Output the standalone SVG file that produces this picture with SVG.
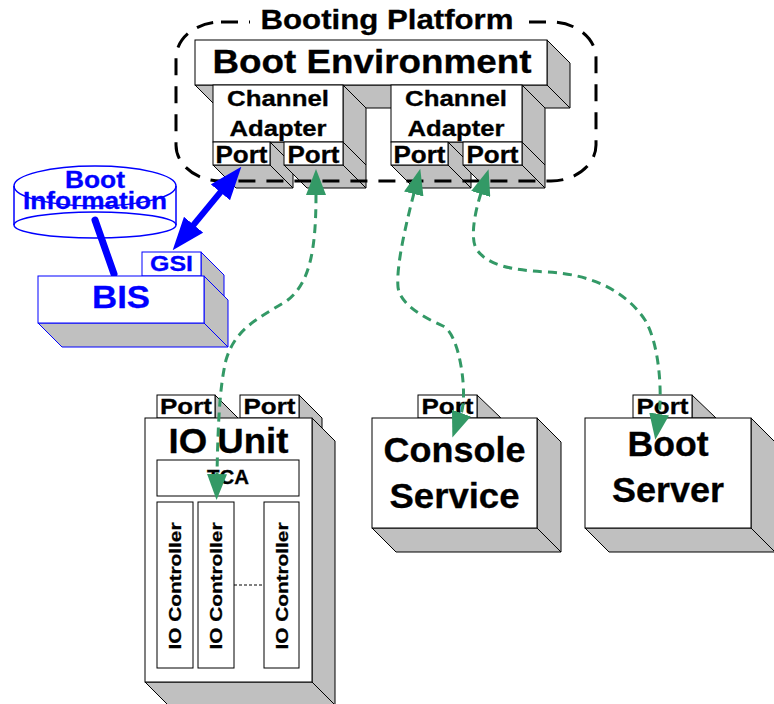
<svg xmlns="http://www.w3.org/2000/svg" width="774" height="704" viewBox="0 0 774 704">
<style>
.f{fill:#fff;stroke:#000;stroke-width:1}
.s{fill:#c0c0c0;stroke:#000;stroke-width:1}
.bf{fill:#fff;stroke:#00f;stroke-width:1}
.bsh{fill:#c0c0c0;stroke:#00f;stroke-width:1}
text{font-family:"Liberation Sans",Arial,sans-serif;font-weight:bold;text-anchor:middle;fill:#000;stroke:#000;stroke-width:0.3}
text.blue{fill:#00f;stroke:#00f}
.g{fill:none;stroke:#339966;stroke-width:3;stroke-dasharray:9,6;marker-start:url(#ga);marker-end:url(#ga)}
</style>
<defs>
<marker id="ga" markerUnits="userSpaceOnUse" viewBox="0 0 26 20" markerWidth="26" markerHeight="20" refX="1" refY="10" orient="auto-start-reverse"><path d="M0,0 L26,10 L0,20 Z" fill="#339966"/></marker>
<marker id="ba" markerUnits="userSpaceOnUse" viewBox="0 0 33 25" markerWidth="33" markerHeight="25" refX="1" refY="12.5" orient="auto-start-reverse"><path d="M0,0 L33,12.5 L0,25 Z" fill="#00f"/></marker>
</defs>

<g id="boot-environment">
<polygon class="s" points="547,40 570,63 570,108 547,85"/>
<polygon class="s" points="195,85 547,85 570,108 218,108"/>
<rect class="f" x="195" y="40" width="352" height="45"/>
<text x="372" y="73" font-size="33" textLength="319" lengthAdjust="spacingAndGlyphs">Boot Environment</text>
</g>

<g id="channel-adapter-1">
<polygon class="s" points="343,85 366,108 366,165 343,142"/>
<polygon class="s" points="213,142 343,142 366,165 236,165"/>
<rect class="f" x="213" y="85" width="130" height="57"/>
<text x="278" y="106" font-size="22" textLength="102" lengthAdjust="spacingAndGlyphs">Channel</text>
<text x="278" y="136" font-size="22" textLength="97" lengthAdjust="spacingAndGlyphs">Adapter</text>
</g>
<g id="channel-adapter-2">
<polygon class="s" points="522,85 545,108 545,165 522,142"/>
<polygon class="s" points="391,142 522,142 545,165 414,165"/>
<rect class="f" x="391" y="85" width="131" height="57"/>
<text x="456" y="106" font-size="22" textLength="102" lengthAdjust="spacingAndGlyphs">Channel</text>
<text x="456" y="136" font-size="22" textLength="97" lengthAdjust="spacingAndGlyphs">Adapter</text>
</g>

<g id="ca1-port-1">
<polygon class="s" points="270,142 293,165 293,188 270,165"/>
<polygon class="s" points="213,165 270,165 293,188 236,188"/>
<rect class="f" x="213" y="142" width="57" height="23"/>
<text x="241.5" y="163" font-size="23" textLength="52" lengthAdjust="spacingAndGlyphs">Port</text>
</g>
<g id="ca1-port-2">
<polygon class="s" points="343,142 366,165 366,188 343,165"/>
<polygon class="s" points="284,165 343,165 366,188 307,188"/>
<rect class="f" x="284" y="142" width="59" height="23"/>
<text x="313.5" y="163" font-size="23" textLength="52" lengthAdjust="spacingAndGlyphs">Port</text>
</g>
<g id="ca2-port-1">
<polygon class="s" points="448,142 471,165 471,188 448,165"/>
<polygon class="s" points="391,165 448,165 471,188 414,188"/>
<rect class="f" x="391" y="142" width="57" height="23"/>
<text x="419.5" y="163" font-size="23" textLength="52" lengthAdjust="spacingAndGlyphs">Port</text>
</g>
<g id="ca2-port-2">
<polygon class="s" points="522,142 545,165 545,188 522,165"/>
<polygon class="s" points="463,165 522,165 545,188 486,188"/>
<rect class="f" x="463" y="142" width="59" height="23"/>
<text x="492.5" y="163" font-size="23" textLength="52" lengthAdjust="spacingAndGlyphs">Port</text>
</g>

<g id="booting-platform">
<rect x="176" y="22" width="420" height="159" rx="45" ry="36" fill="none" stroke="#000" stroke-width="3" stroke-dasharray="17,11"/>
<rect x="250" y="4" width="277" height="32" fill="#fff"/>
<text x="387" y="29" font-size="28" textLength="253" lengthAdjust="spacingAndGlyphs">Booting Platform</text>
</g>

<g id="boot-information">
<path d="M14,186 L14,225 A81,13 0 0 0 176,225 L176,186 Z" fill="#fff"/>
<ellipse cx="95" cy="225" rx="81" ry="13" fill="none" stroke="#00f" stroke-width="1.5"/>
<ellipse cx="95" cy="186" rx="81" ry="20" fill="#fff" stroke="#00f" stroke-width="1.5"/>
<line x1="14" y1="186" x2="14" y2="225" stroke="#00f" stroke-width="1.5"/>
<line x1="176" y1="186" x2="176" y2="225" stroke="#00f" stroke-width="1.5"/>
<text class="blue" x="95" y="188" font-size="23" textLength="60" lengthAdjust="spacingAndGlyphs">Boot</text>
<text class="blue" x="95" y="209" font-size="23" textLength="144" lengthAdjust="spacingAndGlyphs">Information</text>
</g>

<g id="gsi">
<polygon class="bsh" points="201,252 224,275 224,299 201,276"/>
<rect class="bf" x="142" y="252" width="59" height="24"/>
<text class="blue" x="171.5" y="271" font-size="22" textLength="43" lengthAdjust="spacingAndGlyphs">GSI</text>
</g>

<g id="connectors">
<line x1="95" y1="220" x2="114" y2="274" stroke="#00f" stroke-width="7" stroke-linecap="round"/>
<path d="M193,225.5 L221,191.5" stroke="#00f" stroke-width="6" fill="none" marker-start="url(#ba)" marker-end="url(#ba)"/>
</g>

<g id="bis">
<polygon class="bsh" points="204,276 228,300 228,347 204,323"/>
<polygon class="bsh" points="38,323 204,323 228,347 62,347"/>
<rect class="bf" x="38" y="276" width="166" height="47"/>
<text class="blue" x="121" y="308" font-size="32" textLength="58" lengthAdjust="spacingAndGlyphs">BIS</text>
</g>

<g id="io-port-1">
<polygon class="s" points="215,395 238,418 238,441 215,418"/>
<rect class="f" x="157" y="395" width="58" height="23"/>
<text x="186" y="414" font-size="22" textLength="52" lengthAdjust="spacingAndGlyphs">Port</text>
</g>
<g id="io-port-2">
<polygon class="s" points="299,395 322,418 322,441 299,418"/>
<rect class="f" x="240" y="395" width="59" height="23"/>
<text x="269.5" y="414" font-size="22" textLength="52" lengthAdjust="spacingAndGlyphs">Port</text>
</g>

<g id="io-unit">
<polygon class="s" points="312,418 335,441 335,705 312,682"/>
<polygon class="s" points="145,682 312,682 335,705 168,705"/>
<rect class="f" x="145" y="418" width="167" height="264"/>
<text x="228.5" y="453" font-size="35" textLength="120" lengthAdjust="spacingAndGlyphs">IO Unit</text>
<rect class="f" x="157" y="460" width="142" height="36"/>
<text x="228" y="484" font-size="20" textLength="42" lengthAdjust="spacingAndGlyphs">TCA</text>
<rect class="f" x="157" y="502" width="36" height="166"/>
<rect class="f" x="198" y="502" width="36" height="166"/>
<rect class="f" x="264" y="502" width="35" height="166"/>
<text transform="translate(175,586) rotate(-90)" x="0" y="6" font-size="17" textLength="127" lengthAdjust="spacingAndGlyphs">IO Controller</text>
<text transform="translate(216,586) rotate(-90)" x="0" y="6" font-size="17" textLength="127" lengthAdjust="spacingAndGlyphs">IO Controller</text>
<text transform="translate(281.5,586) rotate(-90)" x="0" y="6" font-size="17" textLength="127" lengthAdjust="spacingAndGlyphs">IO Controller</text>
<line x1="234" y1="585" x2="264" y2="585" stroke="#000" stroke-width="1" stroke-dasharray="3,2"/>
</g>

<g id="console-port">
<polygon class="s" points="477,395 501,418 477,418"/>
<rect class="f" x="418" y="395" width="59" height="23"/>
<text x="447.5" y="414" font-size="22" textLength="52" lengthAdjust="spacingAndGlyphs">Port</text>
</g>
<g id="console-service">
<polygon class="s" points="537,418 561,442 561,552 537,528"/>
<polygon class="s" points="372,528 537,528 561,552 396,552"/>
<rect class="f" x="372" y="418" width="165" height="110"/>
<text x="454.5" y="462" font-size="35" textLength="142" lengthAdjust="spacingAndGlyphs">Console</text>
<text x="454.5" y="508" font-size="35" textLength="130" lengthAdjust="spacingAndGlyphs">Service</text>
</g>

<g id="boot-server-port">
<polygon class="s" points="692,395 716,418 692,418"/>
<rect class="f" x="633" y="395" width="59" height="23"/>
<text x="662.5" y="414" font-size="22" textLength="52" lengthAdjust="spacingAndGlyphs">Port</text>
</g>
<g id="boot-server">
<polygon class="s" points="751,418 775,442 775,552 751,528"/>
<polygon class="s" points="585,528 751,528 775,552 609,552"/>
<rect class="f" x="585" y="418" width="166" height="110"/>
<text x="668" y="456" font-size="35" textLength="81" lengthAdjust="spacingAndGlyphs">Boot</text>
<text x="668" y="502" font-size="35" textLength="112" lengthAdjust="spacingAndGlyphs">Server</text>
</g>

<g id="green-connectors">
<path class="g" d="M316,194 C316,250 310,285 285,302 C255,320 235,330 226,360 C220,385 218,420 217,475"/>
<path class="g" d="M414,193 C407,220 396,265 398,287 C400,305 425,318 443,326 C460,334 468,395 461,414"/>
<path class="g" d="M481,193 C474,215 470,240 477,250 C488,265 510,270 547,272 C590,274 625,290 645,320 C660,345 662,395 659,415"/>
</g>
</svg>
